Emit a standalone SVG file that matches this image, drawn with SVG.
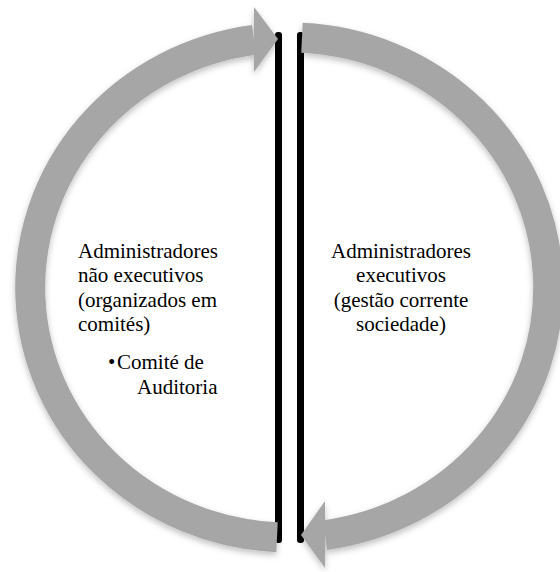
<svg xmlns="http://www.w3.org/2000/svg" width="560" height="572" viewBox="0 0 560 572">
<defs>
<filter id="sh" x="-10%" y="-10%" width="120%" height="120%">
<feDropShadow dx="0" dy="3" stdDeviation="3" flood-color="#000" flood-opacity="0.25"/>
</filter>
</defs>
<style>
.arc{fill:none;stroke:#a6a6a6;stroke-width:30;stroke-linecap:butt}
.head{fill:#a6a6a6}
.bar{fill:#000}
text{font-family:'Liberation Serif','Times New Roman',Times,serif;font-size:21px;fill:#000}
</style>
<rect width="560" height="572" fill="#fff"/>
<g id="bars">
<rect class="bar" x="275" y="32" width="7" height="511" rx="3"/>
<rect class="bar" x="297" y="32" width="7" height="511" rx="3"/>
</g>
<g id="connectors">
<g id="arrow-left" filter="url(#sh)">
<path class="arc" d="M 277 537.2 A 259 250 0 0 1 254 39.8"/>
<polygon class="head" points="254,7 278,39 254,72"/>
</g>
<g id="arrow-right" filter="url(#sh)">
<path class="arc" d="M 302 37.8 A 259 250 0 0 1 325 535.1"/>
<polygon class="head" points="325,501 301,535 325,568"/>
</g>
</g>
<g id="node-nao-executivos" font-family="Liberation Serif, serif">
<text x="78" y="258">Administradores</text>
<text x="78" y="282">não executivos</text>
<text x="78" y="307">(organizados em</text>
<text x="78" y="331">comités)</text>
<text x="108" y="369">•</text>
<text x="117" y="369">Comité de</text>
<text x="137" y="394">Auditoria</text>
</g>
<g id="node-executivos" font-family="Liberation Serif, serif">
<text x="401" y="258" text-anchor="middle">Administradores</text>
<text x="401" y="282" text-anchor="middle">executivos</text>
<text x="401" y="307" text-anchor="middle">(gestão corrente</text>
<text x="401" y="331" text-anchor="middle">sociedade)</text>
</g>
</svg>
